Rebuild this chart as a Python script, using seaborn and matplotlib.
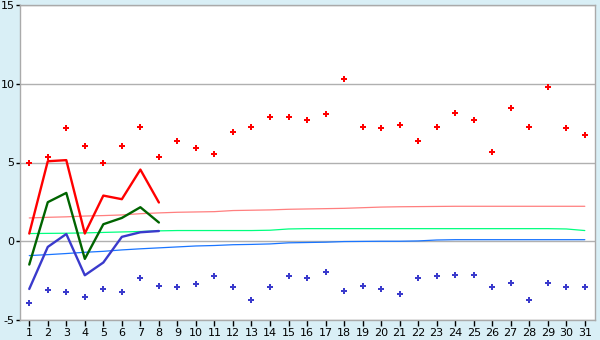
import matplotlib
matplotlib.use("Agg")
import matplotlib.pyplot as plt
import seaborn as sns
import pandas as pd
import numpy as np

days = list(range(1, 32))

red_points = [5.0, 5.33, 7.22, 6.07, 5.0, 6.07, 7.28, 5.38, 6.39, 5.9,
              5.57, 6.96, 7.28, 7.92, 7.92, 7.73, 8.11, 10.27, 7.28, 7.22,
              7.41, 6.39, 7.28, 8.17, 7.73, 5.69, 8.49, 7.28, 9.82, 7.22, 6.77]
blue_points = [-3.89, -3.11, -3.2, -3.51, -3.0, -3.2, -2.31, -2.81, -2.88, -2.69,
               -2.18, -2.88, -3.7, -2.88, -2.18, -2.31, -1.93, -3.13, -2.81, -3.0,
               -3.32, -2.31, -2.18, -2.12, -2.12, -2.88, -2.63, -3.7, -2.63, -2.88, -2.88]

short_days = [1, 2, 3, 4, 5, 6, 7, 8]
red_line = [0.49, 5.08, 5.15, 0.49, 2.9, 2.67, 4.55, 2.46]
green_line = [-1.48, 2.48, 3.07, -1.12, 1.08, 1.48, 2.16, 1.19]
blue_line = [-3.03, -0.36, 0.46, -2.16, -1.35, 0.28, 0.57, 0.65]

pink_avg = [1.48, 1.52, 1.55, 1.6, 1.63, 1.67, 1.75, 1.8, 1.84, 1.86,
            1.88, 1.95, 1.97, 1.99, 2.03, 2.05, 2.07, 2.09, 2.13, 2.17,
            2.19, 2.2, 2.21, 2.22, 2.22, 2.22, 2.22, 2.22, 2.22, 2.22, 2.22]
green_avg = [0.49, 0.5, 0.51, 0.53, 0.56, 0.59, 0.62, 0.66, 0.68, 0.68,
             0.68, 0.68, 0.68, 0.7, 0.78, 0.8, 0.8, 0.8, 0.8, 0.8,
             0.8, 0.8, 0.8, 0.8, 0.8, 0.8, 0.8, 0.8, 0.8, 0.78, 0.68]
blue_avg = [-0.91, -0.85, -0.78, -0.7, -0.64, -0.55, -0.48, -0.42, -0.36, -0.3,
            -0.27, -0.22, -0.2, -0.17, -0.1, -0.08, -0.06, -0.02, -0.01, 0.0,
            0.0, 0.02, 0.08, 0.1, 0.1, 0.1, 0.1, 0.1, 0.1, 0.1, 0.1]

y_ticks = [-5, 0, 5, 10, 15]

sns.set_style("white")
plt.rcParams['font.family'] = ['DejaVu Sans']

bg = "#d9eff6"
fig = plt.figure(figsize=(6.0, 3.4), dpi=100, facecolor=bg)
ax = fig.add_axes([20/600, 20/340, 575/600, 315/340])
ax.set_facecolor("white")

for y in y_ticks:
    ax.axhline(y, color="#b0b0b0", lw=1.0, zorder=0)

full = pd.DataFrame({"day": days, "pink": pink_avg, "green": green_avg,
                     "blue": blue_avg, "rp": red_points, "bp": blue_points})
short = pd.DataFrame({"day": short_days, "r": red_line, "g": green_line, "b": blue_line})

sns.lineplot(data=full, x="day", y="pink", color="#ff7f7f", lw=0.9, ax=ax)
sns.lineplot(data=full, x="day", y="green", color="#00ff7f", lw=0.9, ax=ax)
sns.lineplot(data=full, x="day", y="blue", color="#1a75ff", lw=0.9, ax=ax)

sns.lineplot(data=short, x="day", y="r", color="#ff0000", lw=1.7, ax=ax)
sns.lineplot(data=short, x="day", y="g", color="#006400", lw=1.7, ax=ax)
sns.lineplot(data=short, x="day", y="b", color="#3a3acc", lw=1.7, ax=ax)

sns.scatterplot(data=full, x="day", y="rp", color="#ff0000", marker="P", s=20,
                linewidth=0, ax=ax)
sns.scatterplot(data=full, x="day", y="bp", color="#3a3acc", marker="P", s=20,
                linewidth=0, ax=ax)

ax.set_xlim(0.5, 31.55)
ax.set_ylim(-5, 15)
ax.set_xticks(days)
ax.set_xticklabels([str(d) for d in days])
ax.set_yticks(y_ticks)
ax.set_yticklabels([str(v) for v in y_ticks])
ax.set_xlabel("")
ax.set_ylabel("")
for s in ax.spines.values():
    s.set_color("#aaaaaa")
    s.set_linewidth(1.0)
ax.tick_params(axis="x", labelsize=8, colors="#000000", length=4, width=1,
               direction="out", pad=2)
ax.tick_params(axis="y", labelsize=8, colors="#000000", length=3, width=1,
               direction="out", pad=1)
ax.tick_params(left=True, bottom=True)

fig.savefig("out.png", dpi=100, facecolor=bg)
